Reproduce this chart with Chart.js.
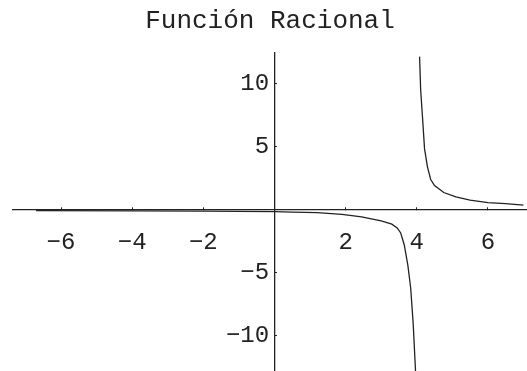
<!DOCTYPE html>
<html>
<head>
<meta charset="utf-8">
<script src="https://cdn.jsdelivr.net/npm/chart.js@4.4.0/dist/chart.umd.min.js"></script>
<style>
  body { margin: 0; background: #fff; }
  canvas { display: block; }
</style>
</head>
<body>
<canvas id="plot" width="527" height="371"></canvas>
<script>
// branch left of the asymptote
const leftX = [-6.7, -4, -2, 0, 0.5, 1.2, 1.9, 2.45, 3.0, 3.3, 3.45, 3.55, 3.65, 3.75, 3.83, 3.9, 3.97];
const leftY = [-0.08, -0.1, -0.12, -0.16, -0.2, -0.24, -0.38, -0.57, -0.9, -1.15, -1.45, -1.85, -2.8, -4.4, -6.2, -9, -13];
// branch right of the asymptote
const rightX = [4.08, 4.11, 4.16, 4.22, 4.3, 4.39, 4.5, 4.76, 5.1, 5.5, 6.0, 6.5, 7.0];
const rightY = [12.1, 9.5, 7.4, 4.8, 3.4, 2.4, 1.9, 1.35, 1.0, 0.75, 0.55, 0.47, 0.36];

const xTicks = [-6, -4, -2, 2, 4, 6];
const yTicks = [-10, -5, 5, 10];

const ink = '#222';
const mono = "'Liberation Mono', 'DejaVu Sans Mono', monospace";

function toPoints(xs, ys) {
  return xs.map((x, i) => ({ x: x, y: ys[i] }));
}

function label(v) {
  return String(v).replace('-', '\u2212');
}

// axes sit inside the plot, so they should not push the chart area around
function noPadding(scale) {
  scale.paddingTop = 0;
  scale.paddingBottom = 0;
  scale.paddingLeft = 0;
  scale.paddingRight = 0;
}

function curve(xs, ys) {
  return {
    data: toPoints(xs, ys),
    xAxisID: 'x',
    yAxisID: 'y',
    showLine: true,
    borderColor: ink,
    borderWidth: 1.3,
    pointRadius: 0
  };
}

new Chart(document.getElementById('plot'), {
  type: 'scatter',
  data: {
    datasets: [curve(leftX, leftY), curve(rightX, rightY)]
  },
  options: {
    responsive: false,
    animation: false,
    layout: { padding: { left: 13, right: 0, top: 0, bottom: 0 } },
    plugins: {
      legend: { display: false },
      tooltip: { enabled: false },
      title: {
        display: true,
        text: 'Función Racional',
        color: ink,
        fullSize: false,
        font: { family: mono, size: 26, weight: 'normal' },
        padding: { top: 6, bottom: 15 }
      }
    },
    scales: {
      x: {
        type: 'linear',
        min: -7.35,
        max: 7.1,
        position: { y: 0 },
        afterBuildTicks: s => { s.ticks = xTicks.map(v => ({ value: v })); },
        afterFit: noPadding,
        border: { color: ink, width: 1.3 },
        grid: { drawOnChartArea: false, tickLength: -3, tickColor: ink, tickWidth: 1 },
        ticks: { color: ink, font: { family: mono, size: 24 }, padding: 22, maxRotation: 0, callback: v => label(v) }
      },
      y: {
        type: 'linear',
        axis: 'y',
        min: -12.77,
        max: 12.45,
        position: { x: 0 },
        afterBuildTicks: s => { s.ticks = yTicks.map(v => ({ value: v })); },
        afterFit: noPadding,
        border: { color: ink, width: 1.3 },
        grid: { drawOnChartArea: false, tickLength: -3, tickColor: ink, tickWidth: 1 },
        ticks: { display: false }
      },
      // labels for the vertical axis, set a few pixels left of the line
      yLabels: {
        type: 'linear',
        axis: 'y',
        min: -12.77,
        max: 12.45,
        position: { x: -0.15 },
        afterBuildTicks: s => { s.ticks = yTicks.map(v => ({ value: v })); },
        afterFit: noPadding,
        border: { display: false },
        grid: { display: false },
        ticks: { color: ink, font: { family: mono, size: 24 }, callback: v => label(v) }
      }
    }
  }
});
</script>
</body>
</html>
